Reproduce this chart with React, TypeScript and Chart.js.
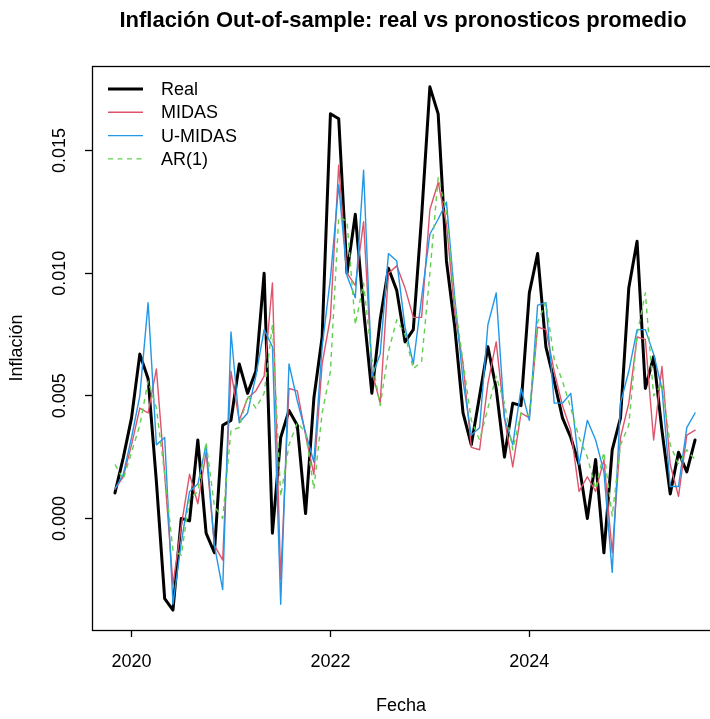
import React, { useEffect, useRef } from 'react';
import { Chart, registerables } from 'chart.js';

Chart.register(...registerables);

// ---- data (monthly, Nov 2019 .. Sep 2025) ----
const startYear = 2019;
const startMonth = 11;

const real = [
  0.00104, 0.00247, 0.0041, 0.0067, 0.0057, 0.0015, -0.00327, -0.00374, 0.0, -0.0001,
  0.0032, -0.0006, -0.0014, 0.0038, 0.004, 0.0063, 0.0051, 0.006, 0.01, -0.0006,
  0.0033, 0.0044, 0.0038, 0.0002, 0.0049, 0.0074, 0.0165, 0.0163, 0.01, 0.0124,
  0.0085, 0.0051, 0.0081, 0.0102, 0.0093, 0.0072, 0.0077, 0.0123, 0.0176, 0.0165,
  0.0105, 0.0078, 0.0043, 0.003, 0.005, 0.007, 0.0053, 0.0025, 0.0047, 0.0046,
  0.0092, 0.0108, 0.007, 0.0056, 0.0041, 0.0033, 0.0022, 0.0, 0.0024, -0.0014,
  0.0028, 0.0041, 0.0094, 0.0113, 0.0053, 0.0066, 0.0036, 0.001, 0.0027, 0.0019,
  0.0032,
];

const midas = [
  0.0012, 0.0017, 0.003, 0.0045, 0.0043, 0.0061, 0.0018, -0.0027, -0.0003, 0.0018,
  0.0006, 0.0027, -0.0011, -0.0017, 0.006, 0.004, 0.0049, 0.0052, 0.0058, 0.0096,
  -0.0025, 0.0053, 0.0052, 0.0034, 0.0018, 0.0063, 0.0082, 0.0144, 0.01, 0.0095,
  0.0121, 0.006, 0.0047, 0.01, 0.0103, 0.0094, 0.0082, 0.0082, 0.0126, 0.0137,
  0.012, 0.0084, 0.0063, 0.0029, 0.0028, 0.0055, 0.0072, 0.0041, 0.0021, 0.0043,
  0.0041, 0.0078, 0.0077, 0.006, 0.0046, 0.0036, 0.0011, 0.0017, 0.0011, 0.0024,
  -0.0014, 0.0033, 0.0047, 0.0074, 0.0073, 0.0032, 0.0062, 0.0022, 0.0009, 0.0034,
  0.0036,
];

const umidas = [
  0.0012, 0.0018, 0.0033, 0.005, 0.0088, 0.003, 0.0033, -0.0035, -0.001, 0.0011,
  0.0014, 0.003, -0.0011, -0.0029, 0.0076, 0.0039, 0.0043, 0.0058, 0.0077, 0.007,
  -0.0035, 0.0063, 0.0048, 0.0035, 0.0023, 0.007, 0.0098, 0.0136, 0.0099, 0.009,
  0.0142, 0.0058, 0.0067, 0.0108, 0.0105, 0.0078, 0.0063, 0.009, 0.0116, 0.0122,
  0.0129, 0.009, 0.0056, 0.0034, 0.0037, 0.0079, 0.0092, 0.0041, 0.003, 0.0053,
  0.004, 0.0087, 0.0088, 0.0047, 0.0047, 0.0051, 0.0022, 0.004, 0.0032, 0.0019,
  -0.0022, 0.0047, 0.006, 0.0077, 0.0077, 0.0067, 0.0053, 0.0013, 0.0013, 0.0037,
  0.0043,
];

const ar1 = [
  0.0022, 0.0016, 0.0027, 0.0038, 0.0056, 0.0045, 0.0018, -0.0013, -0.0015, 0.0008,
  0.0011, 0.0031, 0.0005, 0.0, 0.0036, 0.0037, 0.005, 0.0045, 0.0051, 0.0079,
  0.0009, 0.003, 0.0039, 0.0035, 0.0012, 0.0043, 0.006, 0.0123, 0.0121, 0.0079,
  0.0096, 0.0065, 0.0046, 0.0068, 0.0081, 0.0075, 0.0061, 0.0064, 0.01, 0.0139,
  0.0125, 0.0088, 0.0064, 0.004, 0.0032, 0.0045, 0.0058, 0.0047, 0.0028, 0.0043,
  0.0042, 0.008, 0.0088, 0.0065, 0.0056, 0.0045, 0.0033, 0.0025, 0.0012, 0.0027,
  0.0001, 0.003, 0.0038, 0.0075, 0.0092, 0.005, 0.0055, 0.003, 0.0022, 0.0028,
  0.0024,
];

const seriesNames = ['Real', 'MIDAS', 'U-MIDAS', 'AR(1)'];
const seriesColors = ['#000000', '#DF536B', '#2297E6', '#61D04F'];
const xTickYears = [2020, 2022, 2024];
const yTicks = [0, 0.005, 0.01, 0.015];

const titleText = 'Inflación Out-of-sample: real vs pronosticos promedio';
const xTitle = 'Fecha';
const yTitle = 'Inflación';

const months = real.map((_, i) => {
  const m = startMonth - 1 + i;
  return `${startYear + Math.floor(m / 12)}-${String((m % 12) + 1).padStart(2, '0')}`;
});
const xTickIndex = xTickYears.map((y) => months.indexOf(`${y}-01`));

const FONT = '"Liberation Sans", Arial, Helvetica, sans-serif';

const W = 710;
const H = 719;

const boxPlugin = {
  id: 'rbox',
  afterDraw(chart: any) {
    const { ctx, chartArea } = chart;
    ctx.save();
    ctx.strokeStyle = '#000';
    ctx.lineWidth = 1.3;
    ctx.strokeRect(chartArea.left + 0.5, chartArea.top + 0.5, chartArea.right - chartArea.left + 20, chartArea.bottom - chartArea.top);
    ctx.restore();
  },
};

// R-style main title, centred over the (wider) plot region
const titlePlugin = {
  id: 'rtitle',
  afterDraw(chart: any) {
    const { ctx, chartArea } = chart;
    const cx = (chartArea.left + chartArea.right + 4) / 2;
    ctx.save();
    ctx.fillStyle = '#000';
    ctx.font = `bold 22px ${FONT}`;
    ctx.textAlign = 'center';
    ctx.textBaseline = 'middle';
    ctx.fillText(titleText, cx, 21);
    ctx.restore();
  },
};

const legendPlugin = {
  id: 'rlegend',
  afterDraw(chart: any) {
    const { ctx, chartArea } = chart;
    const x0 = chartArea.left + 16;
    const x1 = chartArea.left + 51;
    const tx = chartArea.left + 69;
    const y0 = chartArea.top + 23;
    const dy = 23.3;
    ctx.save();
    seriesNames.forEach((name, k) => {
      const y = y0 + k * dy;
      ctx.beginPath();
      ctx.strokeStyle = seriesColors[k];
      ctx.lineWidth = k === 0 ? 3 : 1.4;
      ctx.setLineDash(k === 3 ? [5, 4.5] : []);
      ctx.moveTo(x0, y);
      ctx.lineTo(x1, y);
      ctx.stroke();
      ctx.setLineDash([]);
      ctx.fillStyle = '#000';
      ctx.font = `18px ${FONT}`;
      ctx.textAlign = 'left';
      ctx.textBaseline = 'middle';
      ctx.fillText(name, tx, y + 1);
    });
    ctx.restore();
  },
};

export default function App() {
  const ref = useRef<HTMLCanvasElement | null>(null);

  useEffect(() => {
    document.body.style.margin = '0';
    const canvas = ref.current;
    if (!canvas) return;
    const series = [real, midas, umidas, ar1];
    const chart = new Chart(canvas, {
      type: 'line',
      data: {
        datasets: series.map((vals, k) => ({
          label: seriesNames[k],
          data: vals.map((v, i) => ({ x: i, y: v })),
          borderColor: seriesColors[k],
          backgroundColor: seriesColors[k],
          borderWidth: k === 0 ? 3 : 1.4,
          borderDash: k === 3 ? [5, 4.5] : [],
          borderJoinStyle: 'round',
          borderCapStyle: k === 3 ? 'butt' : 'round',
          pointRadius: 0,
          tension: 0,
          fill: false,
          order: 4 - k,
        })),
      },
      options: {
        animation: false,
        responsive: false,
        devicePixelRatio: 1,
        layout: { padding: { left: 0, right: 0, top: 66, bottom: 0 } },
        plugins: {
          legend: { display: false },
          tooltip: { enabled: false },
          title: { display: false },
        },
        scales: {
          x: {
            type: 'linear',
            min: -2.77,
            max: 71.8,
            afterFit: (s: any) => {
              s.height = H - 630;
            },
            afterBuildTicks: (s: any) => {
              s.ticks = xTickIndex.map((v) => ({ value: v }));
            },
            ticks: {
              autoSkip: false,
              maxRotation: 0,
              minRotation: 0,
              padding: 14,
              color: '#000',
              font: { family: FONT, size: 18 },
              callback: (v: any) => {
                const k = xTickIndex.indexOf(Number(v));
                return k >= 0 ? String(xTickYears[k]) : '';
              },
            },
            grid: {
              display: true,
              drawOnChartArea: false,
              drawTicks: true,
              tickLength: 7,
              color: '#000',
              tickColor: '#000',
              tickWidth: 1.3,
            },
            border: { display: false },
            title: {
              display: true,
              text: xTitle,
              color: '#000',
              font: { family: FONT, size: 18, lineHeight: 1.2 },
              padding: { top: 0, bottom: 2.5 },
            },
          },
          y: {
            type: 'linear',
            min: -0.00455,
            max: 0.01845,
            afterFit: (s: any) => {
              s.width = 92;
            },
            afterBuildTicks: (s: any) => {
              s.ticks = yTicks.map((v) => ({ value: v }));
            },
            ticks: {
              autoSkip: false,
              minRotation: 90,
              maxRotation: 90,
              crossAlign: 'center',
              padding: 2.5,
              color: '#000',
              font: { family: FONT, size: 18 },
              callback: (v: any) => Number(v).toFixed(3),
            },
            grid: {
              display: true,
              drawOnChartArea: false,
              drawTicks: true,
              tickLength: 7,
              color: '#000',
              tickColor: '#000',
              tickWidth: 1.3,
            },
            border: { display: false },
            title: {
              display: true,
              text: yTitle,
              color: '#000',
              font: { family: FONT, size: 18, lineHeight: 1.2 },
              padding: { top: 6.5, bottom: 0 },
            },
          },
        },
      },
      plugins: [boxPlugin, titlePlugin, legendPlugin],
    } as any);
    return () => chart.destroy();
  }, []);

  return (
    <div style={{ position: 'fixed', left: 0, top: 0, width: W, height: H, overflow: 'hidden', background: '#fff' }}>
      <canvas ref={ref} width={W} height={H} style={{ display: 'block', width: W, height: H }} />
    </div>
  );
}
